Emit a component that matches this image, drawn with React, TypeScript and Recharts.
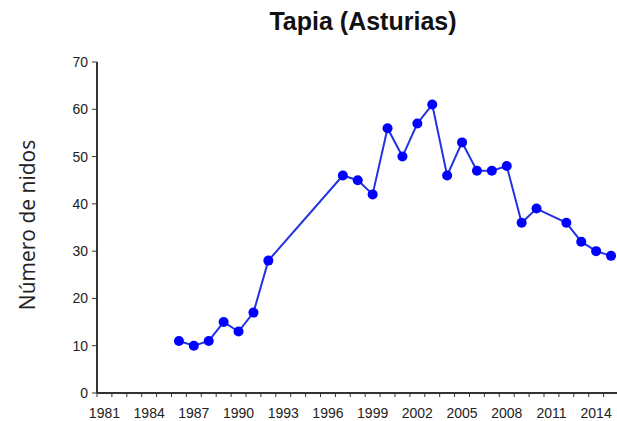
import { LineChart, Line, XAxis, YAxis } from 'recharts'

// Nidos contados por año (Tapia, Asturias)
const years = [
  1986, 1987, 1988, 1989, 1990, 1991, 1992,
  1997, 1998, 1999, 2000, 2001, 2002, 2003, 2004, 2005, 2006, 2007, 2008, 2009, 2010,
  2012, 2013, 2014, 2015,
]
const nests = [
  11, 10, 11, 15, 13, 17, 28,
  46, 45, 42, 56, 50, 57, 61, 46, 53, 47, 47, 48, 36, 39,
  36, 32, 30, 29,
]

const yearLabels = [1981, 1984, 1987, 1990, 1993, 1996, 1999, 2002, 2005, 2008, 2011, 2014]
const nestTicks = [0, 10, 20, 30, 40, 50, 60, 70]

const xDomain: [number, number] = [1980.5, 2015.4]
// marcas menores entre años, como en un eje de categorías
const minorTicks = Array.from({ length: 35 }, (_, i) => 1980.5 + i)

const data = years.map((year, i) => ({ year, nests: nests[i] }))

const axisColor = '#333'
const textColor = '#222'

export default function App() {
  return (
    <div style={{ position: 'absolute', left: 0, top: 0, width: 617, height: 421, background: '#fff' }}>
      <LineChart width={617} height={421} data={data} margin={{ top: 62, right: 0, bottom: 0, left: 0 }}>
        <XAxis
          xAxisId="minor"
          dataKey="year"
          type="number"
          domain={xDomain}
          ticks={minorTicks}
          interval={0}
          height={1}
          tickSize={4}
          tickFormatter={() => ''}
          axisLine={{ stroke: axisColor, strokeWidth: 2 }}
          tickLine={{ stroke: axisColor }}
        />
        <XAxis
          xAxisId="years"
          dataKey="year"
          type="number"
          domain={xDomain}
          ticks={yearLabels}
          interval={0}
          height={27}
          axisLine={false}
          tickLine={false}
          tickSize={0}
          tickMargin={14}
          tick={{ fontSize: 14, fill: textColor, fontFamily: 'Arial, "Liberation Sans", sans-serif' }}
        />
        <YAxis
          type="number"
          domain={[0, 70]}
          ticks={nestTicks}
          interval={0}
          width={97}
          tickSize={5}
          tickMargin={4}
          tick={{ fontSize: 14, fill: textColor, fontFamily: 'Arial, "Liberation Sans", sans-serif' }}
          axisLine={{ stroke: axisColor, strokeWidth: 2 }}
          tickLine={{ stroke: axisColor }}
        />
        <Line
          xAxisId="years"
          type="linear"
          dataKey="nests"
          stroke="#2433e0"
          strokeWidth={2}
          dot={{ r: 5, fill: '#0000ff', stroke: '#0000ff', strokeWidth: 0 }}
          isAnimationActive={false}
        />
      </LineChart>
      <svg width={617} height={421} style={{ position: 'absolute', left: 0, top: 0, pointerEvents: 'none' }}>
        <text
          x={363}
          y={30}
          textAnchor="middle"
          fontSize={25}
          fontWeight="bold"
          fontFamily='Arial, "Liberation Sans", sans-serif'
          fill="#111"
        >
          Tapia (Asturias)
        </text>
        <text
          transform="translate(35,225) rotate(-90)"
          textAnchor="middle"
          fontSize={21}
          fontFamily='"Open Sans", sans-serif'
          fill={textColor}
        >
          Número de nidos
        </text>
      </svg>
    </div>
  )
}
